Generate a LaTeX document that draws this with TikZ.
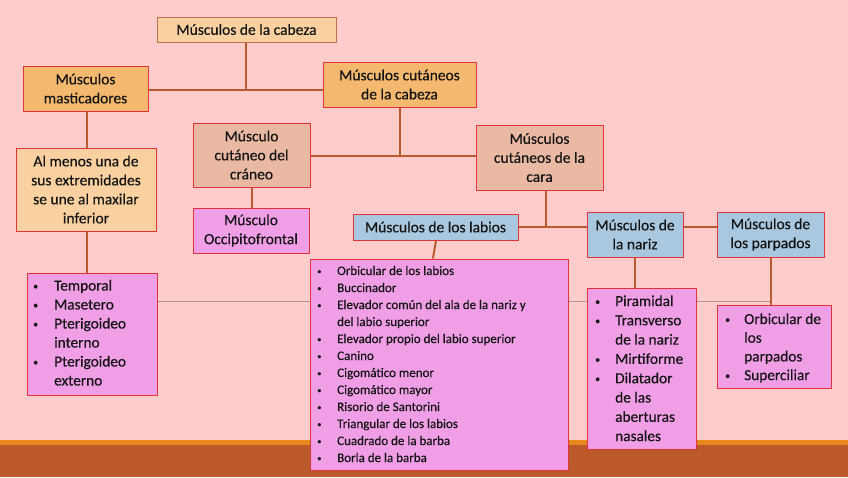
\documentclass[tikz,border=0pt]{standalone}
\usepackage{fontspec}
\setmainfont{Carlito}[FakeBold=0.35]
\definecolor{bg}{RGB}{255,204,204}
\definecolor{hdrlight}{RGB}{249,208,160}
\definecolor{hdrorange}{RGB}{244,184,110}
\definecolor{salmon}{RGB}{233,185,163}
\definecolor{violet}{RGB}{240,158,230}
\definecolor{bluebox}{RGB}{169,200,223}
\definecolor{redline}{RGB}{222,52,58}
\definecolor{brownline}{RGB}{192,112,74}
\definecolor{conn}{RGB}{184,92,48}
\definecolor{grayline}{RGB}{170,150,150}
\definecolor{stripe}{RGB}{232,135,30}
\definecolor{band}{RGB}{189,90,43}
\definecolor{ink}{RGB}{20,20,20}
\newcommand{\bul}{\hspace*{2pt}\raisebox{0.15ex}{\scalebox{0.65}{\textbullet}}}
\begin{document}
\begin{tikzpicture}[x=1pt,y=-1pt,
  box/.style={draw=redline, line width=1pt, inner sep=0pt, align=center, text=ink,
    font=\fontsize{15.5}{19}\selectfont},
  listtext/.style={inner sep=0pt, anchor=base west, align=left, text=ink},
  link/.style={draw=conn, line width=2pt},
  thin/.style={draw=grayline, line width=1pt}]
\fill[bg] (0,0) rectangle (848,477);
\useasboundingbox (0,0) rectangle (848,477);
\fill[stripe] (0,440) rectangle (848,445);
\fill[band] (0,445) rectangle (848,477);

% thin gray line behind boxes
\coordinate (g1) at (157,301);
\coordinate (g2) at (771,301);
\draw[thin] (g1) -- (g2);

% header boxes
\node[box, draw=brownline, fill=hdrlight, minimum width=179, minimum height=25] (cab) at (246.5,29.5) {Músculos de la cabeza};
\node[box, fill=hdrorange, minimum width=125, minimum height=45] (mast) at (85.5,88.5) {Músculos\\masticadores};
\node[box, fill=hdrorange, minimum width=153, minimum height=45] (cutcab) at (399.5,84.5) {Músculos cutáneos\\de la cabeza};
\node[box, fill=hdrlight, minimum width=140, minimum height=83] (almenos) at (86,189.5) {Al menos una de\\sus extremidades\\se une al maxilar\\inferior};
\node[box, fill=salmon, minimum width=117, minimum height=64] (craneo) at (251.5,155) {Músculo\\cutáneo del\\cráneo};
\node[box, fill=salmon, minimum width=127, minimum height=65] (cara) at (539.5,157.5) {Músculos\\cutáneos de la\\cara};
\node[box, fill=violet, minimum width=116, minimum height=45] (occip) at (251,230.5) {Músculo\\Occipitofrontal};
\node[box, fill=bluebox, minimum width=165, minimum height=26] (labios) at (435.5,227) {Músculos de los labios};
\node[box, fill=bluebox, minimum width=96, minimum height=45] (nariz) at (635,234.5) {Músculos de\\la nariz};
\node[box, fill=bluebox, minimum width=107, minimum height=45] (parp) at (770.5,234.5) {Músculos de\\los parpados};

% list boxes
\node[box, fill=violet, minimum width=130, minimum height=122] (mlist) at (92,334) {};
\node[box, fill=violet, minimum width=258, minimum height=211] (llist) at (439,364.5) {};
\node[box, fill=violet, minimum width=109, minimum height=161] (nlist) at (641.5,368.5) {};
\node[box, fill=violet, minimum width=114, minimum height=83] (plist) at (774,346.5) {};

% list texts
\node[listtext, font=\fontsize{15.3}{19}\selectfont] (mtext) at (31,290.5) {%
\begin{tabular}[t]{@{}p{23pt}@{}l@{}}
\bul & Temporal\\
\bul & Masetero\\
\bul & Pterigoideo\\
 & interno\\
\bul & Pterigoideo\\
 & externo
\end{tabular}};
\node[listtext, font=\fontsize{13.0}{17}\selectfont] (ltext) at (315,275) {%
\begin{tabular}[t]{@{}p{22pt}@{}l@{}}
\bul & Orbicular de los labios\\
\bul & Buccinador\\
\bul & Elevador común del ala de la nariz y\\
 & del labio superior\\
\bul & Elevador propio del labio superior\\
\bul & Canino\\
\bul & Cigomático menor\\
\bul & Cigomático mayor\\
\bul & Risorio de Santorini\\
\bul & Triangular de los labios\\
\bul & Cuadrado de la barba\\
\bul & Borla de la barba
\end{tabular}};
\node[listtext, font=\fontsize{15.3}{19.3}\selectfont] (ntext) at (593,306) {%
\begin{tabular}[t]{@{}p{22pt}@{}l@{}}
\bul & Piramidal\\
\bul & Transverso\\
 & de la nariz\\
\bul & Mirtiforme\\
\bul & Dilatador\\
 & de las\\
 & aberturas\\
 & nasales
\end{tabular}};
\node[listtext, font=\fontsize{15.3}{18.7}\selectfont] (ptext) at (723,324) {%
\begin{tabular}[t]{@{}p{21pt}@{}l@{}}
\bul & Orbicular de\\
 & los\\
 & parpados\\
\bul & Superciliar
\end{tabular}};

% connectors
\coordinate (j1) at (246,90);
\coordinate (j2) at (400,156);
\coordinate (j3) at (546,227);
\draw[link] (cab.south -| j1) -- (j1);
\draw[link] (mast.east |- j1) -- (cutcab.west |- j1);
\draw[link] (mast.south -| 87,0) -- (almenos.north -| 87,0);
\draw[link] (almenos.south -| 87,0) -- (mlist.north -| 87,0);
\draw[link] (cutcab.south -| j2) -- (j2);
\draw[link] (craneo.east |- j2) -- (cara.west |- j2);
\draw[link] (craneo.south -| 252,0) -- (occip.north -| 252,0);
\draw[link] (cara.south -| j3) -- (j3);
\draw[link] (labios.east |- j3) -- (nariz.west |- j3);
\draw[link] (nariz.east |- j3) -- (parp.west |- j3);
\draw[link] (labios.south -| 436,0) -- (llist.north -| 433,0);
\draw[link] (nariz.south) -- (nlist.north -| nariz.south);
\draw[link] (parp.south -| g2) -- (plist.north -| g2);
\end{tikzpicture}
\end{document}
